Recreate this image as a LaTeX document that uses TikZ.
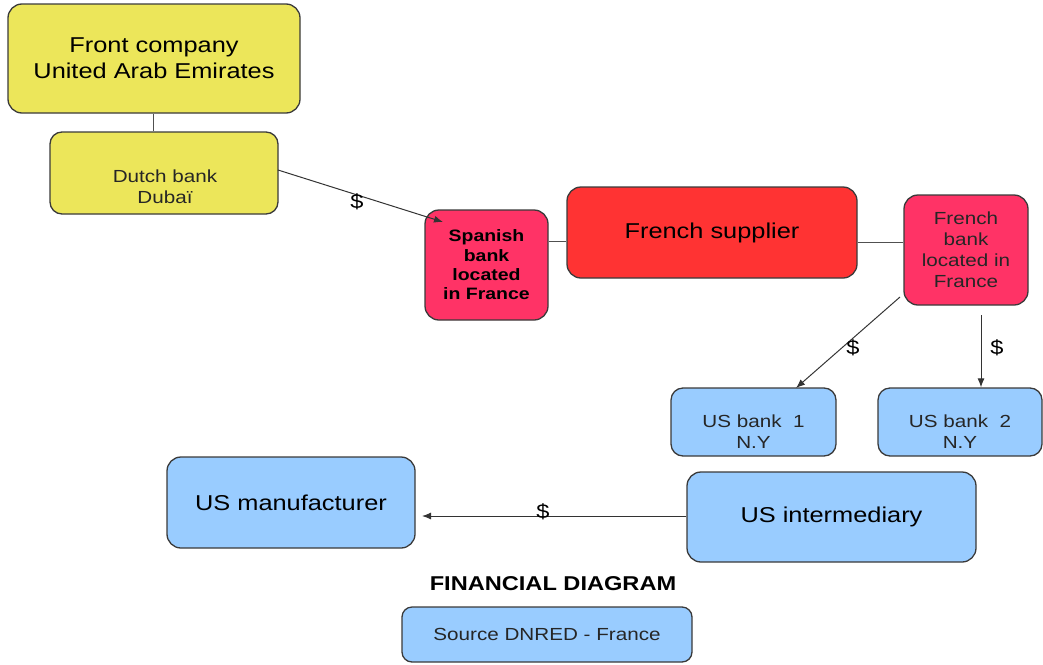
\documentclass[tikz,border=0pt]{standalone}
\usepackage{fontspec}
\setmainfont{Liberation Sans}[FakeStretch=1.18]
\usetikzlibrary{arrows.meta,calc}
\definecolor{boxyellow}{HTML}{ECE65A}
\definecolor{boxpink}{HTML}{FF3366}
\definecolor{boxred}{HTML}{FF3333}
\definecolor{boxblue}{HTML}{99CCFF}
\definecolor{boxline}{HTML}{3A3A3A}
\definecolor{linkgray}{HTML}{505050}
\definecolor{arrowline}{HTML}{333333}
\definecolor{smalltext}{HTML}{262626}
\begin{document}
\begin{tikzpicture}[x=1pt,y=-1pt,
  box/.style={draw=boxline,line width=1.3pt,rounded corners=14pt,inner sep=0pt,align=center},
  big/.style={font=\fontsize{21.5}{26}\selectfont},
  small/.style={font=\fontsize{17.5}{21}\selectfont,text=smalltext,align=center},
  flow/.style={draw=arrowline,line width=1pt,-{Latex[length=9pt,width=7pt]}},
  link/.style={draw=linkgray,line width=1pt},
  money/.style={font=\fontsize{20}{24}\selectfont}]
\useasboundingbox (0,0) rectangle (1043,664);

% boxes
\node[box,fill=boxyellow,minimum width=292pt,minimum height=109pt,big] (front) at (154,58.5) {Front company\\United Arab Emirates};
\node[box,fill=boxyellow,minimum width=228pt,minimum height=82pt,rounded corners=12pt] (dutch) at (164,173) {};
\node[small] (dutchtext) at (165,186.5) {Dutch bank\\Dubaï};

\node[box,fill=boxpink,minimum width=123pt,minimum height=110pt,font=\bfseries\fontsize{16.5}{19.3}\selectfont] (spanish) at (486.5,265) {Spanish\\bank\\located\\in France};
\node[box,fill=boxred,minimum width=290pt,minimum height=91pt,big] (supplier) at (712,232.5) {French supplier};
\node[box,fill=boxpink,minimum width=124pt,minimum height=110pt,small] (frbank) at (966,250) {French\\bank\\located in\\France};

\node[box,fill=boxblue,minimum width=165pt,minimum height=68pt,rounded corners=12pt] (us1) at (753.5,422) {};
\node[small] (us1text) at (753.5,432) {US bank\ \ 1\\N.Y};
\node[box,fill=boxblue,minimum width=164pt,minimum height=68pt,rounded corners=12pt] (us2) at (960,422) {};
\node[small] (us2text) at (960,432) {US bank\ \ 2\\N.Y};

\node[box,fill=boxblue,minimum width=248pt,minimum height=91pt,big] (manuf) at (291,502.5) {US manufacturer};
\node[box,fill=boxblue,minimum width=289pt,minimum height=90pt,big] (inter) at (831.5,517) {US intermediary};

\node[font=\bfseries\fontsize{20}{24}\selectfont] (title) at (553,584) {FINANCIAL DIAGRAM};
\node[box,fill=boxblue,minimum width=290pt,minimum height=55pt,rounded corners=10pt,small] (source) at (547,634.5) {Source DNRED - France};

% connectors
\draw[link] (front.south -| 153,0) -- (dutch.north -| 153,0);
\coordinate (dutchout) at (278,170);
\coordinate (spanishin) at (443,222);
\draw[flow] (dutchout) -- (spanishin);
\node[money] (m1) at (357,202) {\$};

\coordinate (row1) at (0,241);
\draw[link] (spanish.east |- row1) -- (supplier.west |- row1);
\coordinate (row2) at (0,242);
\draw[link] (supplier.east |- row2) -- (frbank.west |- row2);

\coordinate (frout1) at (900,297);
\coordinate (us1in) at (796,388);
\draw[flow] (frout1) -- (us1in);
\node[money] (m2) at (853,348) {\$};

\coordinate (frout2) at (981,315);
\draw[flow] (frout2) -- (us2.north -| frout2);
\node[money] (m3) at (997,348) {\$};

\coordinate (manufin) at (422,516);
\draw[flow] (inter.west |- manufin) -- (manufin);
\node[money] (m4) at (543,512) {\$};
\end{tikzpicture}
\end{document}
